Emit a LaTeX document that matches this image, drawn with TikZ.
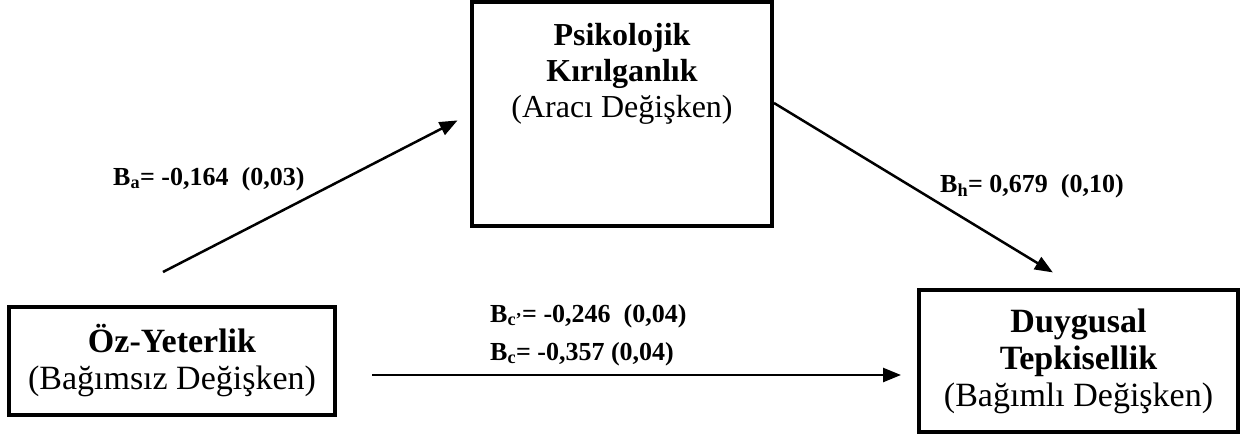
\documentclass[tikz,border=0pt]{standalone}
\usepackage{fontspec}
\setmainfont{Liberation Serif}
\usetikzlibrary{arrows.meta}

\newcommand{\boldline}{\fontsize{32}{36}\selectfont\bfseries}

\begin{document}
\begin{tikzpicture}[x=1pt, y=-1pt,
  every node/.style={inner sep=0pt},
  varbox/.style={draw, line width=4pt, align=center, font=\fontsize{34}{37}\selectfont},
  coefArrow/.style={line width=2.5pt, -{Triangle[length=18pt,width=14pt]}},
  coef/.style={anchor=base west, font=\fontsize{26}{28}\selectfont\bfseries}]
\useasboundingbox (0,0) rectangle (1242,434);

% Variable boxes
\node[varbox, minimum width=326pt, minimum height=108pt] (oz) at (172,361)
  {\textbf{Öz-Yeterlik}\\ (Bağımsız Değişken)};
\node[varbox, minimum width=300pt, minimum height=224pt] (mid) at (622,114) {};
\node[anchor=north, align=center, font=\fontsize{32}{36}\selectfont] (midText) at (622,23)
  {{\boldline Psikolojik}\\ {\boldline Kırılganlık}\\ (Aracı Değişken)};
\node[varbox, minimum width=319pt, minimum height=142pt] (dv) at (1078.5,361)
  {\textbf{Duygusal}\\ \textbf{Tepkisellik}\\ (Bağımlı Değişken)};

% Paths
\coordinate (aStart) at (163,272);
\draw[coefArrow, shorten >=14pt] (aStart) -- (mid.west);
\draw[coefArrow, shorten >=30pt] ([yshift=11pt]mid.east) -- (dv.north);
\coordinate (cStart) at (372,375);
\draw[coefArrow, shorten >=16pt] (cStart) -- (cStart -| dv.west);

% Coefficients
\node[coef] (La) at (113,185) {B\textsubscript{a}= -0,164~~(0,03)};
\node[coef] (Lb) at (940,192) {B\textsubscript{h}= 0,679~~(0,10)};
\node[coef] (Lc1) at (490,322) {B\textsubscript{c’}= -0,246~~(0,04)};
\node[coef] (Lc2) at (490,360) {B\textsubscript{c}= -0,357 (0,04)};

\end{tikzpicture}
\end{document}
